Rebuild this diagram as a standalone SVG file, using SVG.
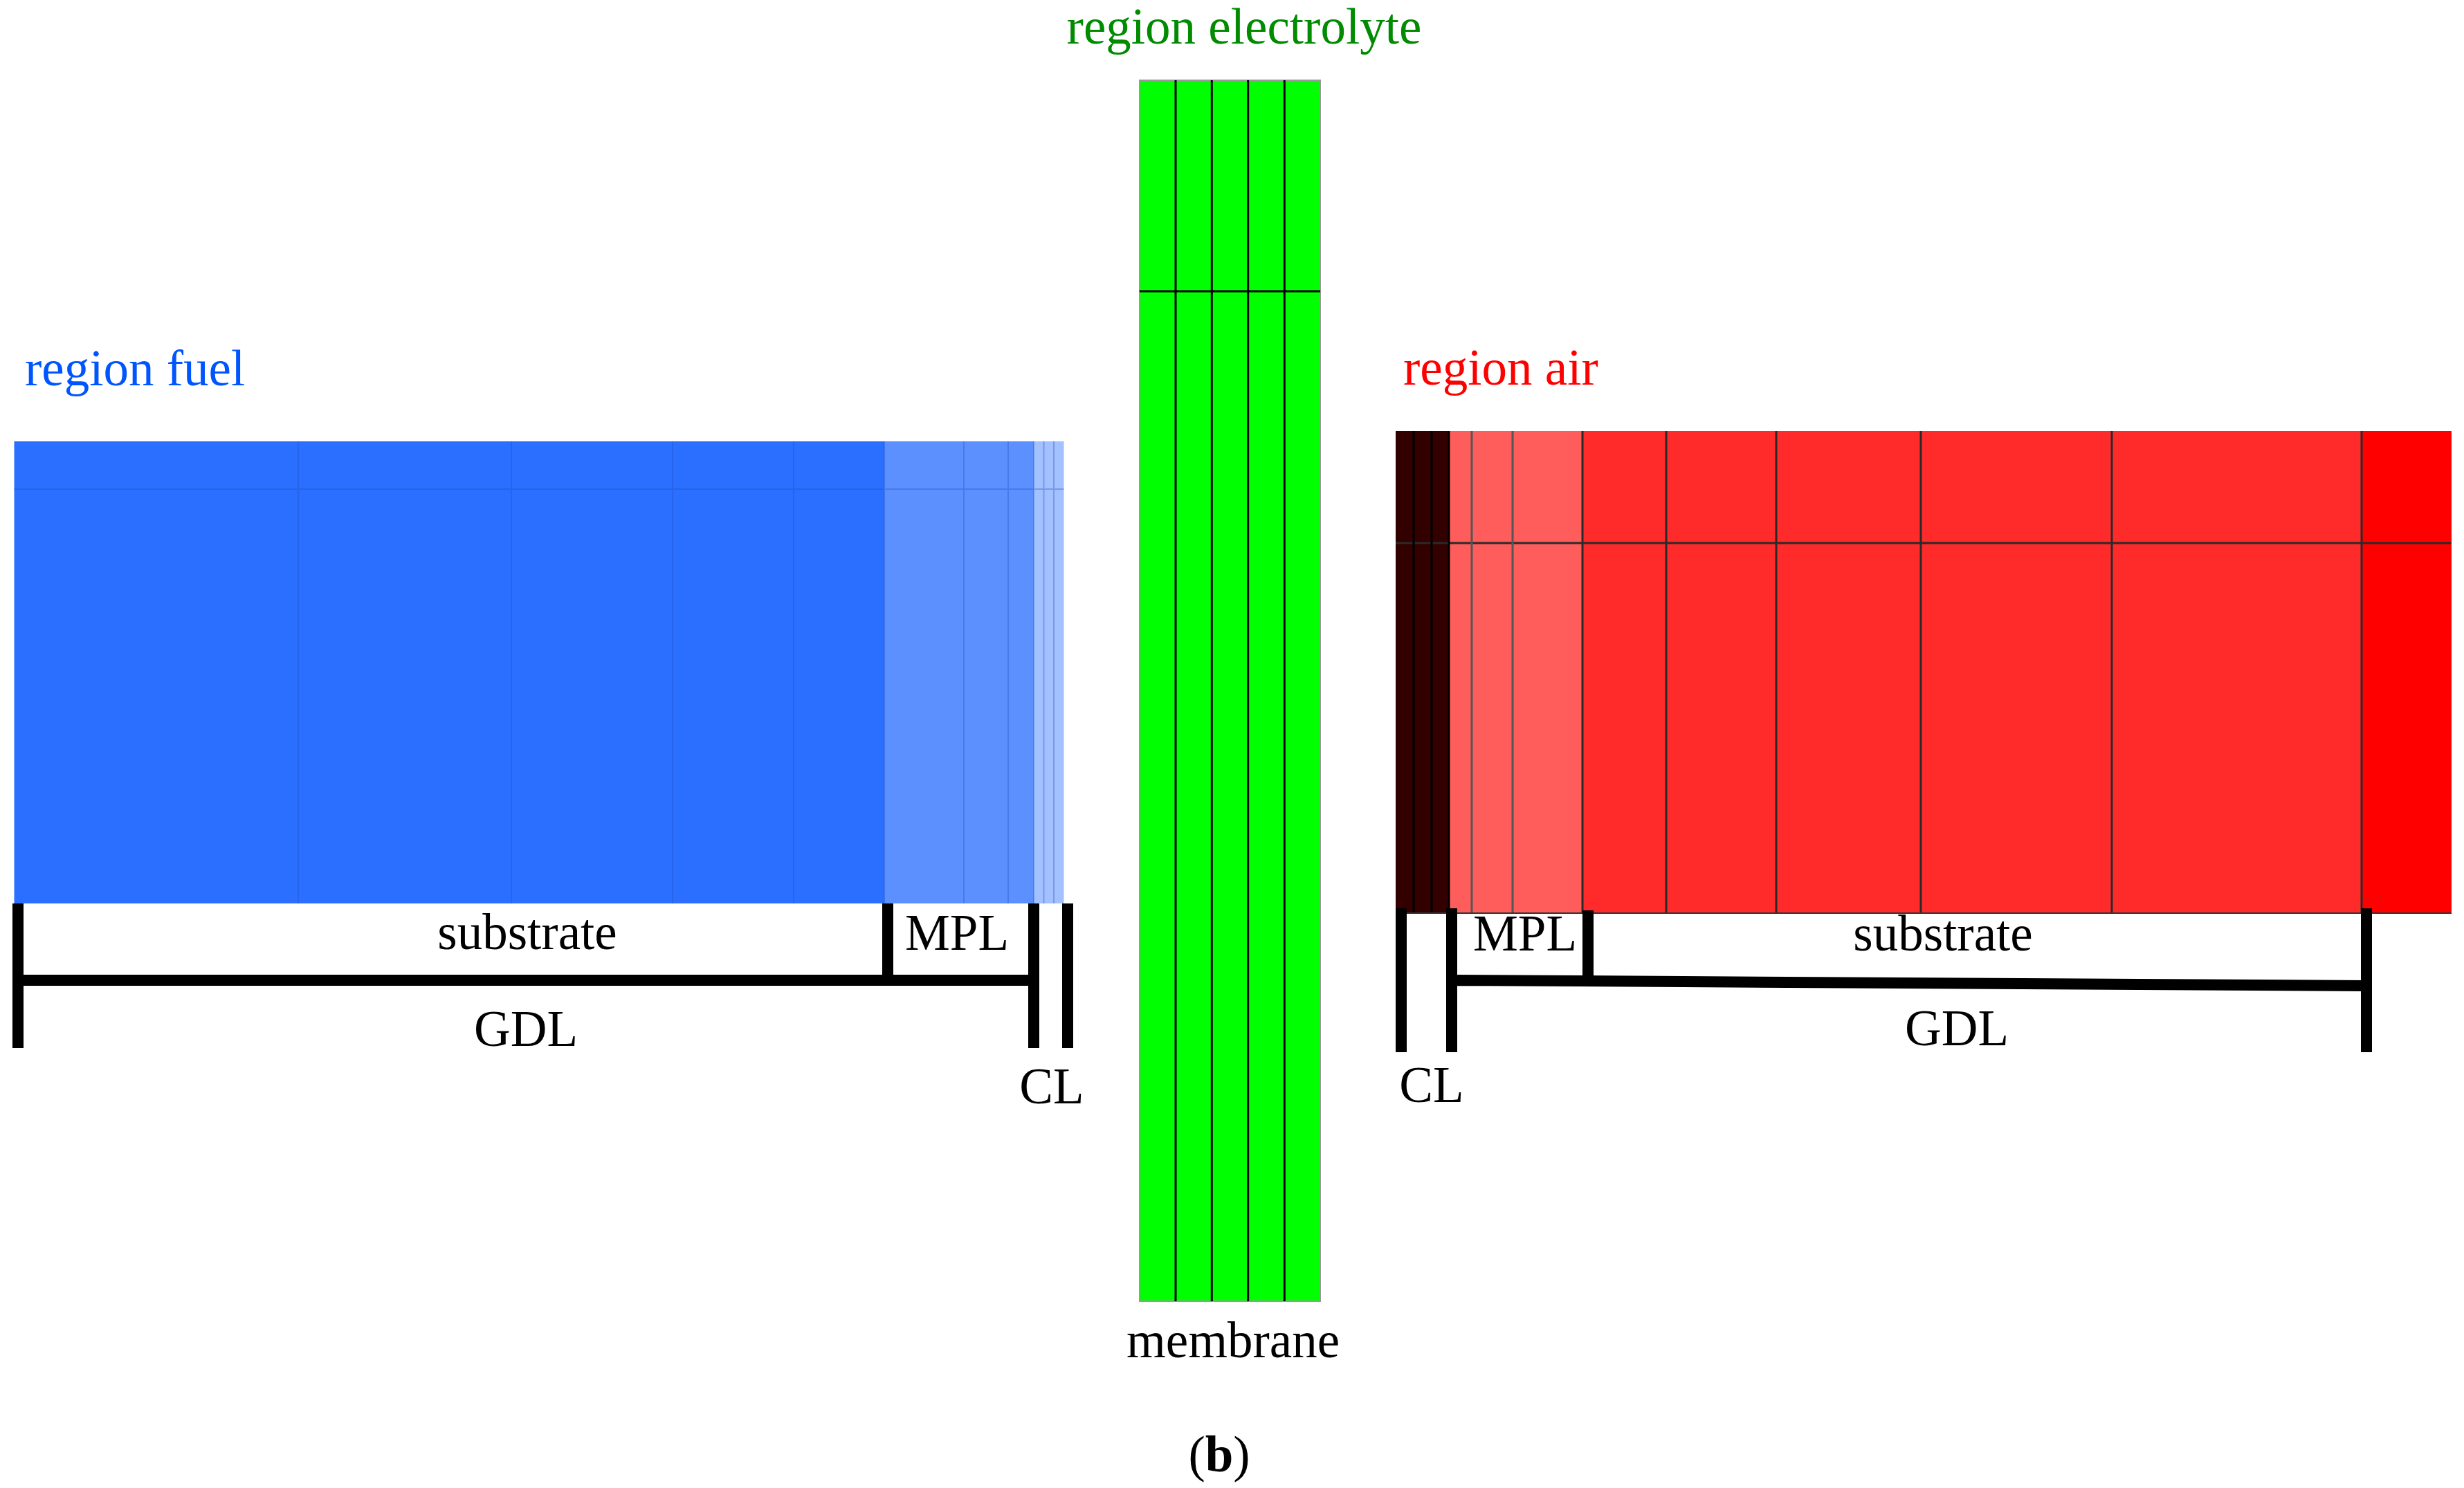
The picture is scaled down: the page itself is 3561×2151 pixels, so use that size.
<svg xmlns="http://www.w3.org/2000/svg" width="3561" height="2151" viewBox="0 0 3561 2151">
<style>
text{font-family:"Liberation Serif","Times New Roman",serif;font-size:73px;fill:#000}
.mid{text-anchor:middle}
.bl{stroke:#2050c0;stroke-opacity:0.35;stroke-width:2;fill:none}
.rl{stroke:#2a2a2a;stroke-width:3;fill:none}
.rg{stroke:#555;stroke-width:3;fill:none}
.gl{stroke:#000;stroke-width:3;fill:none}
.br{stroke:#000;stroke-width:16;fill:none}
</style>
<rect width="3561" height="2151" fill="#fff"/>
<g id="fuel">
<rect x="20.5" y="638" width="1257.5" height="668" fill="#2a6fff"/>
<rect x="1278" y="638" width="216" height="668" fill="#5c90ff"/>
<rect x="1494" y="638" width="43.5" height="668" fill="#a3c0ff"/>
<path class="bl" d="M20.5 707H1537.5M431 638V1306M739 638V1306M972 638V1306M1147 638V1306M1278 638V1306M1393 638V1306M1457 638V1306M1494 638V1306M1508.5 638V1306M1523 638V1306"/>
<text x="36" y="557" fill="#0055ff" style="fill:#0055ff">region fuel</text>
</g>
<g id="electrolyte">
<rect x="1647" y="116" width="261" height="1765" fill="#00ff00" stroke="#999" stroke-width="2"/>
<path class="gl" d="M1647 421H1908M1699 116V1881M1751.3 116V1881M1803.7 116V1881M1856.3 116V1881"/>
<text class="mid" x="1798" y="63" style="fill:#008b00">region electrolyte</text>
<text class="mid" x="1782" y="1962">membrane</text>
</g>
<g id="air">
<rect x="2017" y="623" width="77" height="697" fill="#330000"/>
<rect x="2094" y="623" width="193" height="697" fill="#ff5c5c"/>
<rect x="2287" y="623" width="1126" height="697" fill="#ff2a2a"/>
<rect x="3413" y="623" width="130" height="697" fill="#ff0000"/>
<path class="rl" d="M2017 785H3543M2287 623V1320M2408 623V1320M2567 623V1320M2776 623V1320M3052 623V1320M3413 623V1320"/>
<path class="gl" d="M2043 623V1320M2069 623V1320M2094 623V1320"/>
<path class="rg" d="M2127 623V1320M2186 623V1320"/>
<path d="M2017 1320H3543" stroke="#333" stroke-width="2"/>
<text x="2028" y="556" style="fill:#ff0000">region air</text>
</g>
<g id="connectors">
<path class="br" d="M26 1306V1515M26 1417H1494M1283 1306V1417M1494 1306V1515M1543 1306V1515"/>
<path class="br" d="M2025 1313V1521M2098 1313V1521M2295 1316V1417M2106 1417L3420 1425M3420 1313V1521"/>
</g>
<g id="labels">
<text class="mid" x="762" y="1372">substrate</text>
<text class="mid" x="1383" y="1373">MPL</text>
<text class="mid" x="760" y="1512">GDL</text>
<text class="mid" x="1520" y="1595">CL</text>
<text class="mid" x="2204" y="1374">MPL</text>
<text class="mid" x="2808" y="1374">substrate</text>
<text class="mid" x="2828" y="1511">GDL</text>
<text class="mid" x="2069" y="1593">CL</text>
<text class="mid" x="1762" y="2127">(<tspan font-weight="bold">b</tspan>)</text>
</g>
</svg>
